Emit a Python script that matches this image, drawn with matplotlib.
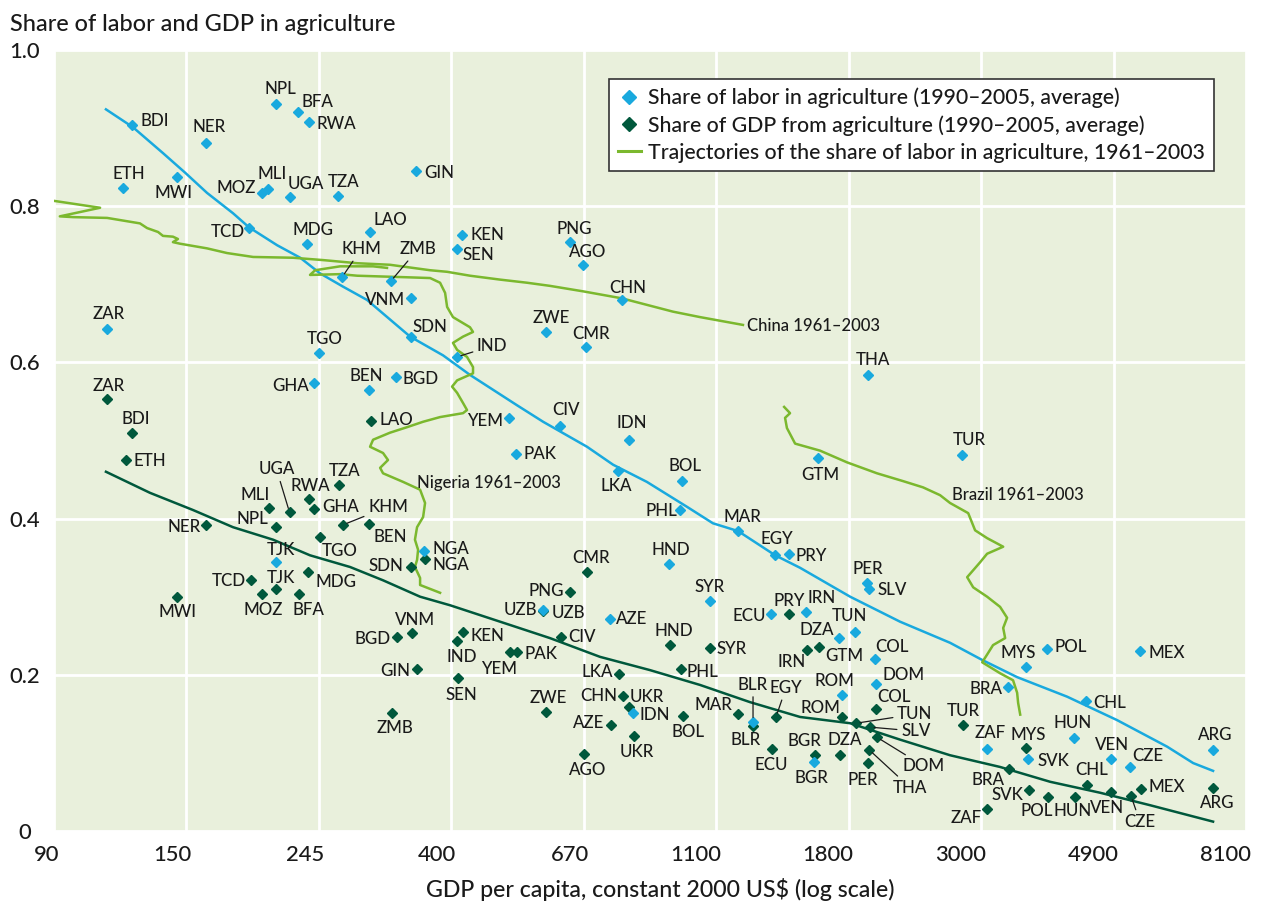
import matplotlib
matplotlib.use("Agg")
import matplotlib.pyplot as plt
from matplotlib.lines import Line2D
from matplotlib.ticker import NullLocator, NullFormatter
from matplotlib.transforms import ScaledTranslation

plt.rcParams['font.family'] = ['Lato', 'DejaVu Sans']
plt.rcParams['font.weight'] = 'medium'

# share of labor in agriculture (1990-2005, average)
labor_codes = ['BDI', 'NER', 'NPL', 'BFA', 'RWA', 'ETH', 'MWI', 'MOZ', 'MLI', 'UGA',
               'TZA', 'TCD', 'MDG', 'LAO', 'KHM', 'ZMB', 'VNM', 'GIN', 'KEN', 'SEN',
               'PNG', 'AGO', 'CHN', 'SDN', 'ZAR', 'TGO', 'GHA', 'BEN', 'BGD', 'IND',
               'ZWE', 'CMR', 'YEM', 'CIV', 'PAK', 'IDN', 'LKA', 'BOL', 'PHL', 'MAR',
               'EGY', 'PRY', 'HND', 'NGA', 'TJK', 'THA', 'TUR', 'GTM', 'PER', 'SLV',
               'SYR', 'UZB', 'AZE', 'ECU', 'IRN', 'TUN', 'DZA', 'COL', 'DOM', 'ROM',
               'MYS', 'POL', 'MEX', 'BRA', 'CHL', 'HUN', 'ZAF', 'SVK', 'VEN', 'CZE',
               'ARG', 'BLR', 'UKR', 'BGR']
labor_gdp = [121, 160, 208, 226, 236, 117, 143, 197, 202, 219,
             263, 188, 234, 297, 267, 321, 347, 353, 420, 412,
             631, 663, 768, 347, 110, 245, 240, 296, 327, 412,
             577, 671, 501, 608, 515, 789, 757, 964, 956, 1191,
             1370, 1443, 918, 364, 208, 1945, 2774, 1610, 1938, 1953,
             1071, 570, 734, 1349, 1540, 1852, 1744, 1998, 2005, 1764,
             3532, 3824, 5432, 3300, 4433, 4236, 3049, 3559, 4871, 5230,
             7156, 1260, 801, 1587]
labor_share = [0.904, 0.881, 0.931, 0.921, 0.908, 0.823, 0.837, 0.817, 0.822, 0.812,
               0.813, 0.772, 0.752, 0.767, 0.709, 0.704, 0.682, 0.845, 0.763, 0.745,
               0.754, 0.725, 0.680, 0.633, 0.643, 0.612, 0.574, 0.565, 0.581, 0.607,
               0.639, 0.620, 0.529, 0.519, 0.483, 0.501, 0.461, 0.448, 0.411, 0.384,
               0.353, 0.355, 0.342, 0.359, 0.344, 0.584, 0.481, 0.478, 0.318, 0.310,
               0.294, 0.283, 0.271, 0.278, 0.280, 0.255, 0.247, 0.220, 0.188, 0.174,
               0.210, 0.233, 0.230, 0.184, 0.166, 0.119, 0.105, 0.092, 0.092, 0.082,
               0.104, 0.140, 0.151, 0.088]

# share of GDP from agriculture (1990-2005, average)
gdp_codes = ['ZAR', 'BDI', 'ETH', 'LAO', 'UGA', 'TZA', 'RWA', 'MLI', 'GHA', 'KHM',
             'BEN', 'NER', 'NPL', 'TGO', 'SDN', 'MDG', 'TCD', 'TJK', 'MWI', 'MOZ',
             'BFA', 'BGD', 'VNM', 'GIN', 'ZMB', 'NGA', 'CMR', 'PNG', 'KEN', 'IND',
             'SEN', 'YEM', 'PAK', 'CIV', 'ZWE', 'AGO', 'LKA', 'CHN', 'IDN', 'AZE',
             'UKR', 'HND', 'SYR', 'PHL', 'BOL', 'MAR', 'BLR', 'EGY', 'ECU', 'BGR',
             'PRY', 'IRN', 'GTM', 'DZA', 'ROM', 'COL', 'TUN', 'SLV', 'DOM', 'THA',
             'PER', 'TUR', 'MYS', 'BRA', 'SVK', 'ZAF', 'POL', 'HUN', 'CHL', 'VEN',
             'CZE', 'MEX', 'ARG', 'UZB']
gdp_gdp = [110, 121, 118, 298, 219, 264, 236, 203, 240, 268,
           296, 160, 208, 246, 347, 235, 189, 208, 143, 197,
           227, 329, 348, 354, 323, 365, 673, 631, 422, 412,
           414, 503, 517, 610, 577, 666, 760, 771, 789, 737,
           804, 921, 1071, 960, 967, 1191, 1260, 1374, 1353, 1592,
           1443, 1545, 1616, 1750, 1764, 2005, 1859, 1960, 2012, 1953,
           1945, 2784, 3532, 3312, 3574, 3049, 3840, 4251, 4451, 4871,
           5249, 5451, 7156, 570]
gdp_share = [0.553, 0.510, 0.475, 0.525, 0.408, 0.443, 0.425, 0.414, 0.412, 0.392,
             0.393, 0.392, 0.389, 0.376, 0.338, 0.332, 0.321, 0.310, 0.300, 0.303,
             0.303, 0.248, 0.254, 0.207, 0.151, 0.348, 0.332, 0.306, 0.255, 0.243,
             0.196, 0.229, 0.229, 0.248, 0.152, 0.099, 0.201, 0.173, 0.159, 0.136,
             0.122, 0.238, 0.234, 0.207, 0.147, 0.150, 0.134, 0.146, 0.105, 0.097,
             0.278, 0.232, 0.236, 0.097, 0.146, 0.156, 0.138, 0.133, 0.120, 0.104,
             0.087, 0.136, 0.106, 0.079, 0.052, 0.028, 0.044, 0.044, 0.059, 0.050,
             0.045, 0.054, 0.055, 0.282]

# fitted curves
fit_labor_x = [109.5, 121.3, 135.8, 147.6, 160.4, 176.9, 187.9, 209, 228, 245.7, 268, 293.4,
               345.3, 391, 432.8, 517.2, 570.4, 673.2, 742.9, 844, 982.4, 1083, 1191, 1370,
               1505, 1818, 2195, 2651, 2993, 3415, 4124, 4980, 6016, 6637, 7156]
fit_labor_y = [0.924, 0.901, 0.868, 0.843, 0.817, 0.791, 0.773, 0.750, 0.734, 0.714, 0.697, 0.680,
               0.633, 0.609, 0.584, 0.545, 0.524, 0.492, 0.469, 0.447, 0.415, 0.394, 0.384, 0.353,
               0.337, 0.300, 0.268, 0.241, 0.219, 0.197, 0.172, 0.142, 0.108, 0.087, 0.077]
fit_gdp_x = [109.5, 129.3, 152.1, 176.9, 205.8, 236.6, 275.3, 311.7, 358.5, 401.6, 484.9, 585.3,
             707, 854, 1031.6, 1245.7, 1505, 1818, 2195, 2651, 3202, 3869, 4671, 5642, 7156]
fit_gdp_y = [0.460, 0.433, 0.411, 0.389, 0.373, 0.353, 0.338, 0.321, 0.300, 0.289, 0.268, 0.247,
             0.223, 0.206, 0.187, 0.165, 0.146, 0.138, 0.117, 0.097, 0.082, 0.063, 0.049, 0.033, 0.012]

# trajectories of the share of labor in agriculture, 1961-2003
china_x = [89.7, 107.1, 92, 96.7, 110, 124.5, 127.9, 133.3, 135.8, 141, 143.7, 141, 144.8, 160.4,
           173, 190.9, 222, 248.6, 282.7, 320, 372.4, 397, 432.8, 484.9, 536.9, 585.3, 663.2,
           768.2, 931.1, 1031.6, 1213]
china_y = [0.807, 0.798, 0.787, 0.786, 0.785, 0.778, 0.772, 0.767, 0.762, 0.761, 0.758, 0.754,
           0.752, 0.746, 0.740, 0.735, 0.734, 0.731, 0.727, 0.725, 0.718, 0.716, 0.711, 0.706,
           0.702, 0.698, 0.691, 0.682, 0.665, 0.658, 0.648]
nigeria_x = [316.4, 300.2, 265, 241.2, 236.6, 265, 282.7, 341.1, 372.4, 386.6, 394, 397, 405.9,
             432.8, 437.8, 421.6, 405.9, 412.3, 428, 437.8, 437.8, 412.3, 404.5, 412.3, 421.6,
             428, 421.6, 386.6, 362.6, 341.1, 320, 300.2, 296.8, 311.7, 317.6, 308.3, 311.7,
             336.2, 358.5, 365.3, 362.6, 354.4, 351.6, 355.8, 354.4, 351.6, 358.5, 358.5, 386.6]
nigeria_y = [0.721, 0.723, 0.723, 0.718, 0.712, 0.713, 0.711, 0.709, 0.708, 0.702, 0.689, 0.671,
             0.658, 0.645, 0.639, 0.633, 0.625, 0.616, 0.607, 0.594, 0.586, 0.577, 0.569, 0.561,
             0.548, 0.539, 0.535, 0.530, 0.524, 0.517, 0.510, 0.501, 0.492, 0.484, 0.475, 0.465,
             0.458, 0.447, 0.437, 0.420, 0.402, 0.389, 0.373, 0.360, 0.347, 0.338, 0.324, 0.315,
             0.305]
brazil_x = [1417, 1449, 1422, 1432, 1477, 1623, 1797, 2012, 2220, 2394, 2553, 2651, 2839, 2914,
            3049, 3240, 3049, 2969, 2828, 2893, 3049, 3202, 3288, 3240, 3264, 3118, 3061, 2993,
            3202, 3363, 3415, 3428, 3455]
brazil_y = [0.543, 0.535, 0.529, 0.516, 0.496, 0.487, 0.472, 0.458, 0.448, 0.440, 0.430, 0.420,
            0.407, 0.385, 0.375, 0.364, 0.355, 0.344, 0.325, 0.312, 0.300, 0.287, 0.273, 0.260,
            0.247, 0.238, 0.228, 0.216, 0.202, 0.193, 0.177, 0.164, 0.149]

xticks = [90, 148.4, 244.7, 403.4, 665.1, 1096.6, 1808, 2981, 4914.8, 8103.1]
xtick_labels = ['90', '150', '245', '400', '670', '1100', '1800', '3000', '4900', '8100']
yticks = [0, 0.2, 0.4, 0.6, 0.8, 1.0]
ytick_labels = ['0', '0.2', '0.4', '0.6', '0.8', '1.0']

# label placement: offset in pixels (dx, dy) and alignment
lab_labor = {
    'BDI': (8, 4, 'left'), 'NER': (3, 16, 'center'), 'NPL': (5, 15, 'center'),
    'BFA': (4, 10, 'left'), 'RWA': (7, -2, 'left'), 'ETH': (5, 14, 'center'),
    'MWI': (-3, -16, 'center'), 'MOZ': (-6, 5, 'right'), 'MLI': (4, 15, 'center'),
    'UGA': (-2, 13, 'left'), 'TZA': (6, 14, 'center'), 'TCD': (-4, -4, 'right'),
    'MDG': (6, 14, 'center'), 'LAO': (3, 12, 'left'), 'KHM': (19, 28, 'center'),
    'ZMB': (27, 32, 'center'), 'VNM': (-6, -2, 'right'), 'GIN': (8, -2, 'left'),
    'KEN': (8, 0, 'left'), 'SEN': (6, -6, 'left'), 'PNG': (4, 13, 'center'),
    'AGO': (5, 13, 'center'), 'CHN': (6, 12, 'center'), 'SDN': (18, 10, 'center'),
    'ZAR': (2, 15, 'center'), 'TGO': (5, 14, 'center'), 'GHA': (-5, -3, 'right'),
    'BEN': (-3, 14, 'center'), 'BGD': (7, -2, 'left'), 'IND': (20, 11, 'left'),
    'ZWE': (5, 14, 'center'), 'CMR': (5, 13, 'center'), 'YEM': (-6, -3, 'right'),
    'CIV': (6, 16, 'center'), 'PAK': (7, 0, 'left'), 'IDN': (3, 17, 'center'),
    'LKA': (-2, -15, 'center'), 'BOL': (3, 15, 'center'), 'PHL': (-3, -1, 'right'),
    'MAR': (4, 14, 'center'), 'EGY': (2, 16, 'center'), 'PRY': (7, -2, 'left'),
    'HND': (2, 14, 'center'), 'NGA': (8, 2, 'left'), 'TJK': (5, 12, 'center'),
    'THA': (5, 15, 'center'), 'TUR': (7, 15, 'center'), 'GTM': (2, -17, 'center'),
    'PER': (1, 14, 'center'), 'SLV': (8, -1, 'left'), 'SYR': (0, 14, 'center'),
    'UZB': (-6, 0, 'right'), 'AZE': (6, 0, 'left'), 'ECU': (-5, -2, 'right'),
    'IRN': (1, 14, 'left'), 'TUN': (-6, 16, 'center'), 'DZA': (-5, 8, 'right'),
    'COL': (0, 12, 'left'), 'DOM': (6, 9, 'left'), 'ROM': (-8, 14, 'center'),
    'MYS': (-8, 14, 'center'), 'POL': (7, 2, 'left'), 'MEX': (8, -2, 'left'),
    'BRA': (-6, -2, 'right'), 'CHL': (7, -2, 'left'), 'HUN': (-2, 15, 'center'),
    'ZAF': (3, 16, 'center'), 'SVK': (9, -2, 'left'), 'VEN': (1, 14, 'center'),
    'CZE': (2, 11, 'left'), 'ARG': (2, 15, 'center'), 'BLR': (0, 37, 'center'),
    'UKR': (-3, 16, 'left'), 'BGR': (-3, -16, 'center'),
}
lab_gdp = {
    'ZAR': (2, 13, 'center'), 'BDI': (3, 14, 'center'), 'ETH': (8, -1, 'left'),
    'LAO': (8, 1, 'left'), 'UGA': (-13, 43, 'center'), 'TZA': (6, 14, 'center'),
    'RWA': (1, 13, 'center'), 'MLI': (-14, 13, 'center'), 'GHA': (8, 2, 'left'),
    'KHM': (25, 18, 'left'), 'BEN': (4, -13, 'left'), 'NER': (-6, -2, 'right'),
    'NPL': (-8, 8, 'right'), 'TGO': (1, -14, 'left'), 'SDN': (-8, 1, 'right'),
    'MDG': (7, -10, 'left'), 'TCD': (-5, -1, 'right'), 'TJK': (5, 11, 'center'),
    'MWI': (1, -15, 'center'), 'MOZ': (2, -16, 'center'), 'BFA': (9, -16, 'center'),
    'BGD': (-7, -2, 'right'), 'VNM': (3, 13, 'center'), 'GIN': (-6, -2, 'right'),
    'ZMB': (2, -15, 'center'), 'NGA': (8, -6, 'left'), 'CMR': (4, 14, 'center'),
    'PNG': (-6, 1, 'right'), 'KEN': (7, -4, 'left'), 'IND': (5, -16, 'center'),
    'SEN': (3, -17, 'center'), 'YEM': (-11, -17, 'center'), 'PAK': (7, -2, 'left'),
    'CIV': (7, 0, 'left'), 'ZWE': (2, 14, 'center'), 'AGO': (4, -16, 'center'),
    'LKA': (-6, 2, 'right'), 'CHN': (-6, 0, 'right'), 'IDN': (10, -8, 'left'),
    'AZE': (-7, 2, 'right'), 'UKR': (3, -16, 'center'), 'HND': (4, 14, 'center'),
    'SYR': (7, -1, 'left'), 'PHL': (6, -3, 'left'), 'BOL': (5, -16, 'center'),
    'MAR': (-6, 9, 'right'), 'BLR': (-7, -14, 'center'), 'EGY': (10, 29, 'center'),
    'ECU': (-1, -16, 'center'), 'BGR': (-11, 14, 'center'), 'PRY': (0, 13, 'center'),
    'IRN': (-1, -12, 'right'), 'GTM': (6, -9, 'left'), 'DZA': (5, 15, 'center'),
    'ROM': (-22, 9, 'center'), 'COL': (1, 12, 'left'), 'TUN': (41, 9, 'left'),
    'SLV': (31, -4, 'left'), 'DOM': (26, -29, 'left'), 'THA': (24, -38, 'left'),
    'PER': (-5, -17, 'center'), 'TUR': (0, 14, 'center'), 'MYS': (2, 13, 'center'),
    'BRA': (-21, -11, 'center'), 'SVK': (-6, -5, 'right'), 'ZAF': (-5, -9, 'right'),
    'POL': (-11, -14, 'center'), 'HUN': (-3, -14, 'center'), 'CHL': (4, 15, 'center'),
    'VEN': (-4, -16, 'center'), 'CZE': (9, -26, 'center'), 'MEX': (8, 2, 'left'),
    'ARG': (4, -15, 'center'), 'UZB': (9, -2, 'left'),
}
leaders_labor = {'KHM', 'ZMB', 'IND', 'BLR'}
leaders_gdp = {'UGA', 'KHM', 'EGY', 'TUN', 'SLV', 'DOM', 'THA', 'CZE'}

BLUE = '#19a9de'
DKGREEN = '#00583c'
TRAJ = '#7bb82e'
BG = '#e9f0dc'
TXT = '#1a1a1a'

fig = plt.figure(figsize=(12.63, 9.05), dpi=100)
ax = fig.add_axes([54 / 1263, 1 - 831 / 905, 1192 / 1263, 781 / 905])
ax.set_facecolor(BG)
ax.set_xscale('log')
ax.set_xlim(90, 8103.1)
ax.set_ylim(0, 1)
ax.xaxis.set_minor_locator(NullLocator())
ax.xaxis.set_minor_formatter(NullFormatter())
ax.set_xticks(xticks)
ax.set_xticklabels(xtick_labels)
ax.set_yticks(yticks)
ax.set_yticklabels(ytick_labels)
ax.set_axisbelow(True)
ax.grid(True, color='white', lw=2.0)
for s in ax.spines.values():
    s.set_visible(False)
ax.tick_params(length=0, labelsize=15.8, colors=TXT)
ax.tick_params(axis='x', pad=10)
ax.tick_params(axis='y', pad=21)
shift = ScaledTranslation(5 / 100, 0, fig.dpi_scale_trans)
for t in ax.get_xticklabels():
    t.set_ha('right')
    t.set_transform(t.get_transform() + shift)
for t in ax.get_yticklabels():
    t.set_ha('center')

# lines
ax.plot(fit_labor_x, fit_labor_y, color=BLUE, lw=1.8, zorder=2)
ax.plot(fit_gdp_x, fit_gdp_y, color=DKGREEN, lw=1.8, zorder=2)
for tx, ty in [(china_x, china_y), (nigeria_x, nigeria_y), (brazil_x, brazil_y)]:
    ax.plot(tx, ty, color=TRAJ, lw=1.8, zorder=2, solid_joinstyle='round')

ax.text(1231, 0.647, 'China 1961\u20132003', fontsize=12, color=TXT, va='center', ha='left')
ax.text(354, 0.446, 'Nigeria 1961\u20132003', fontsize=12, color=TXT, va='center', ha='left')
ax.text(2672, 0.430, 'Brazil 1961\u20132003', fontsize=12, color=TXT, va='center', ha='left')

# points
ax.plot(gdp_gdp, gdp_share, 'D', ls='none', ms=5.6, color=DKGREEN, zorder=4)
ax.plot(labor_gdp, labor_share, 'D', ls='none', ms=5.6, color=BLUE, zorder=5)


def put_labels(codes, xs, ys, layout, leaders):
    for c, x, y in zip(codes, xs, ys):
        dx, dy, ha = layout[c]
        kw = {}
        if c in leaders:
            kw['arrowprops'] = dict(arrowstyle='-', color=TXT, lw=0.9, shrinkA=1, shrinkB=3)
        ax.annotate(c, (x, y), xytext=(dx, dy), textcoords='offset pixels',
                    ha=ha, va='center', fontsize=12.2, color=TXT, zorder=6, **kw)


put_labels(gdp_codes, gdp_gdp, gdp_share, lab_gdp, leaders_gdp)
put_labels(labor_codes, labor_gdp, labor_share, lab_labor, leaders_labor)

handles = [
    Line2D([], [], marker='D', ls='none', color=BLUE, ms=7.5),
    Line2D([], [], marker='D', ls='none', color=DKGREEN, ms=7.5),
    Line2D([], [], color=TRAJ, lw=2.2),
]
labels = ['Share of labor in agriculture (1990\u20132005, average)',
          'Share of GDP from agriculture (1990\u20132005, average)',
          'Trajectories of the share of labor in agriculture, 1961\u20132003']
leg = ax.legend(handles, labels, loc='upper left', bbox_to_anchor=(609 / 1263, 1 - 79 / 905),
                bbox_transform=fig.transFigure, fontsize=15.3, frameon=True, fancybox=False,
                edgecolor='#333333', facecolor='white', framealpha=1, borderpad=0.4,
                labelspacing=0.33, handlelength=1.1, handletextpad=0.35, borderaxespad=0)
leg.get_frame().set_linewidth(1.2)
leg.set_zorder(10)
for t in leg.get_texts():
    t.set_color(TXT)

fig.text(10 / 1263, 1 - 31 / 905, 'Share of labor and GDP in agriculture',
         fontsize=16.9, color=TXT, ha='left', va='baseline')
fig.text(660 / 1263, 1 - 897 / 905, 'GDP per capita, constant 2000 US$ (log scale)',
         fontsize=16.7, color=TXT, ha='center', va='baseline')

fig.savefig('out.png', dpi=100)
